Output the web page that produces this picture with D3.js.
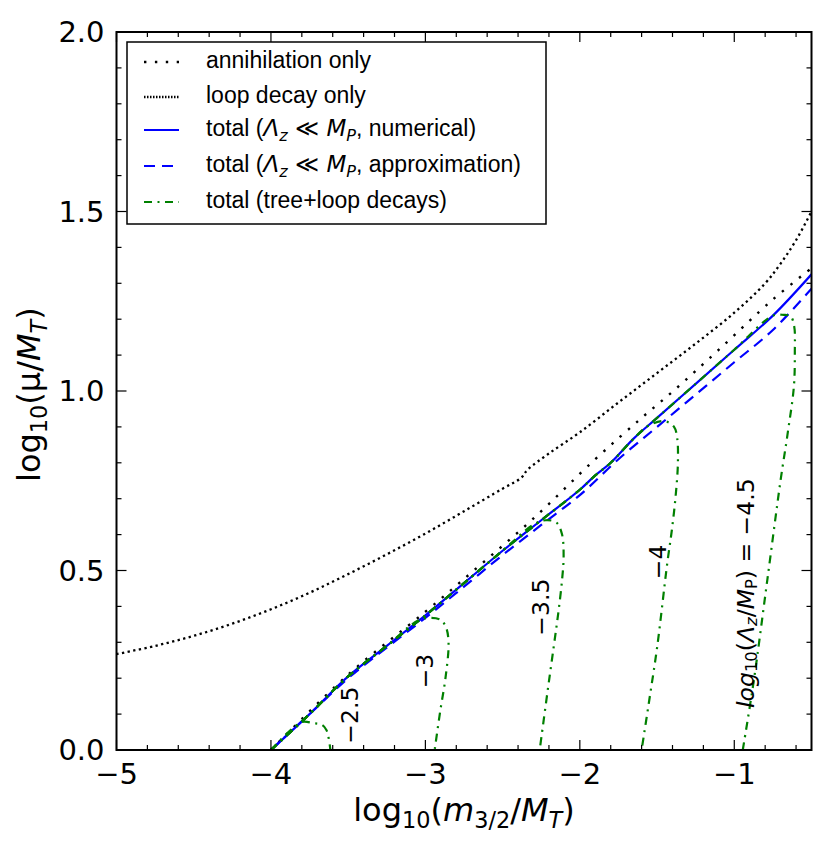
<!DOCTYPE html>
<html><head><meta charset="utf-8">
<script src="https://cdn.jsdelivr.net/npm/d3@7"></script>
<style>body{margin:0;background:#fff}text{font-family:"Liberation Sans",Arial,Helvetica,sans-serif;fill:#000}</style>
</head><body><svg id="c" width="829" height="855"></svg>
<script>
// ---------- data ----------
const xTicks = [-5, -4, -3, -2, -1];
const yTicks = [0, 0.5, 1.0, 1.5, 2.0];

const loopDecay = [[-5.0,0.267],[-4.75,0.29],[-4.5,0.318],[-4.25,0.352],[-4.0,0.392],[-3.75,0.438],[-3.5,0.49],[-3.25,0.545],[-3.0,0.603],[-2.75,0.665],[-2.5,0.728],[-2.38,0.758],[-2.34,0.78],[-2.2,0.826],[-2.0,0.885],[-1.75,0.968],[-1.5,1.05],[-1.25,1.132],[-1.0,1.218],[-0.8,1.3],[-0.7,1.355],[-0.6,1.42],[-0.5,1.50]];
const annihilation = [[-4.0,0.0],[-3.5,0.21],[-3.0,0.385],[-2.7,0.495],[-2.3,0.645],[-1.9,0.81],[-1.6,0.925],[-1.4,0.998],[-1.1,1.115],[-0.75,1.255],[-0.5,1.342]];
const totalNumerical = [[-4.0,0.0],[-3.75,0.10],[-3.5,0.205],[-3.25,0.29],[-3.0,0.375],[-2.75,0.465],[-2.5,0.555],[-2.25,0.64],[-2.0,0.725],[-1.9,0.765],[-1.8,0.8],[-1.65,0.868],[-1.5,0.925],[-1.25,1.02],[-1.0,1.115],[-0.75,1.21],[-0.5,1.325]];
const totalApprox = [[-4.0,0.0],[-3.75,0.10],[-3.5,0.20],[-3.25,0.285],[-3.0,0.368],[-2.75,0.455],[-2.5,0.543],[-2.25,0.627],[-2.0,0.71],[-1.75,0.81],[-1.5,0.9],[-1.25,0.99],[-1.0,1.08],[-0.75,1.17],[-0.5,1.285]];
// tails of the tree+loop curves, after they leave the common line
const treeTail25 = [[-3.8,0.078],[-3.73,0.075],[-3.67,0.07],[-3.64,0.055],[-3.625,0.03],[-3.615,0.0]];
const treeTail30 = [[-3.05,0.36],[-2.97,0.368],[-2.9,0.362],[-2.865,0.34],[-2.85,0.297],[-2.87,0.2],[-2.903,0.111],[-2.94,0.0]];
const treeTail35 = [[-2.3,0.628],[-2.22,0.64],[-2.15,0.633],[-2.115,0.6],[-2.105,0.54],[-2.115,0.474],[-2.14,0.38],[-2.169,0.288],[-2.21,0.16],[-2.26,0.0]];
const treeTail40 = [[-1.55,0.905],[-1.45,0.916],[-1.39,0.9],[-1.37,0.87],[-1.365,0.8],[-1.38,0.706],[-1.405,0.61],[-1.434,0.52],[-1.499,0.288],[-1.55,0.14],[-1.6,0.0]];
const treeTail45 = [[-0.75,1.21],[-0.68,1.212],[-0.635,1.208],[-0.612,1.18],[-0.608,1.11],[-0.614,1.013],[-0.655,0.88],[-0.70,0.752],[-0.786,0.474],[-0.873,0.195],[-0.945,0.0]];
const curveLabels = ["−2.5", "−3", "−3.5", "−4", "−4.5"];
const curveLabelPos = [[-3.49,0.097],[-3.005,0.22],[-2.254,0.398],[-1.496,0.524],[-0.926,0.437]];
const legendLabels = ["annihilation only", "loop decay only", "total (Λz ≪ MP, numerical)", "total (Λz ≪ MP, approximation)", "total (tree+loop decays)"];

// ---------- setup ----------
const MATH = '"DejaVu Sans", sans-serif';
const m = {l: 116.5, r: 811.5, t: 32, b: 750};
const x = d3.scaleLinear().domain([-5, -0.5]).range([m.l, m.r]);
const y = d3.scaleLinear().domain([0, 2]).range([m.b, m.t]);
const svg = d3.select("#c");

svg.append("defs").append("clipPath").attr("id", "clip")
  .append("rect").attr("x", m.l).attr("y", m.t).attr("width", m.r - m.l).attr("height", m.b - m.t);

function mathText(sel, parts, fs) {
  let prevSub = false;
  const sh = fs * 0.22;
  parts.forEach(p => {
    const t = sel.append("tspan").text(p.t)
      .attr("font-size", (p.sub ? fs * 0.7 : fs) + "px");
    if (p.i) t.attr("font-style", "italic");
    if (p.m) t.style("font-family", MATH);
    if (p.sub && !prevSub) t.attr("dy", sh);
    if (!p.sub && prevSub) t.attr("dy", -sh);
    prevSub = !!p.sub;
  });
}

const line = d3.line().x(d => x(d[0])).y(d => y(d[1])).curve(d3.curveCatmullRom.alpha(0.5));
const plot = svg.append("g").attr("clip-path", "url(#clip)");

const GREEN = "#008000", BLUE = "#0000ff";
const styles = {
  ann: {stroke: "#000", w: 2.4, dash: "2.4,8.5"},
  loop: {stroke: "#000", w: 2.3, dash: "2.3,3.4"},
  num: {stroke: BLUE, w: 2.2, dash: null},
  apx: {stroke: BLUE, w: 2.2, dash: "11,7"},
  tree: {stroke: GREEN, w: 2.2, dash: "8,5.5,2,5.5"}
};
function draw(data, st) {
  const p = plot.append("path").datum(data).attr("d", line)
    .attr("fill", "none").attr("stroke", st.stroke).attr("stroke-width", st.w);
  if (st.dash) p.attr("stroke-dasharray", st.dash);
}

draw(annihilation, styles.ann);
draw(loopDecay, styles.loop);
draw(totalNumerical, styles.num);
draw(totalApprox, styles.apx);
[treeTail25, treeTail30, treeTail35, treeTail40, treeTail45].forEach(tail => {
  const head = totalNumerical.filter(d => d[0] < tail[0][0] - 0.02);
  draw(head.concat(tail), styles.tree);
});

// ---------- frame and ticks ----------
svg.append("rect").attr("x", m.l).attr("y", m.t).attr("width", m.r - m.l).attr("height", m.b - m.t)
  .attr("fill", "none").attr("stroke", "#000").attr("stroke-width", 2);
const tk = svg.append("g").attr("stroke", "#000").attr("stroke-width", 1.2);
const xMinor = d3.range(-5, -0.49, 0.2).filter(v => Math.abs(v - Math.round(v)) > 1e-6);
const yMinor = d3.range(0, 2.001, 0.1).filter(v => Math.abs(v * 2 - Math.round(v * 2)) > 1e-6);
function xt(v, len) {
  tk.append("line").attr("x1", x(v)).attr("x2", x(v)).attr("y1", m.b).attr("y2", m.b - len);
  tk.append("line").attr("x1", x(v)).attr("x2", x(v)).attr("y1", m.t).attr("y2", m.t + len);
}
function yt(v, len) {
  tk.append("line").attr("y1", y(v)).attr("y2", y(v)).attr("x1", m.l).attr("x2", m.l + len);
  tk.append("line").attr("y1", y(v)).attr("y2", y(v)).attr("x1", m.r).attr("x2", m.r - len);
}
xTicks.forEach(v => xt(v, 10)); xMinor.forEach(v => xt(v, 5));
yTicks.forEach(v => yt(v, 10)); yMinor.forEach(v => yt(v, 5));

const TF = 29;
xTicks.forEach(v => {
  svg.append("text").attr("x", x(v)).attr("y", m.b + 34).attr("text-anchor", "middle")
    .style("font-family", MATH).attr("font-size", TF + "px").text("−" + Math.abs(v));
});
yTicks.forEach(v => {
  svg.append("text").attr("x", m.l - 12).attr("y", y(v)).attr("dy", "0.36em").attr("text-anchor", "end")
    .style("font-family", MATH).attr("font-size", TF + "px").text(d3.format(".1f")(v));
});

// axis labels
const AF = 32;
mathText(svg.append("text").attr("x", x(-2.75)).attr("y", 821).attr("text-anchor", "middle"),
  [{t: "log", m: 1}, {t: "10", sub: true, m: 1}, {t: "(", m: 1}, {t: "m", i: true, m: 1}, {t: "3/2", sub: true, m: 1}, {t: "/", m: 1}, {t: "M", i: true, m: 1}, {t: "T", sub: true, i: true, m: 1}, {t: ")", m: 1}], AF);
mathText(svg.append("text").attr("transform", `translate(40,${y(0.99)}) rotate(-90)`).attr("text-anchor", "middle"),
  [{t: "log", m: 1}, {t: "10", sub: true, m: 1}, {t: "(μ/", m: 1}, {t: "M", i: true, m: 1}, {t: "T", sub: true, i: true, m: 1}, {t: ")", m: 1}], AF);

// curve labels
const LF = 23.5;
curveLabels.forEach((lab, i) => {
  const [lx, ly] = curveLabelPos[i];
  const t = svg.append("text").attr("transform", `translate(${x(lx)},${y(ly)}) rotate(-90)`)
    .attr("text-anchor", "middle").attr("dominant-baseline", "central").style("font-family", MATH);
  if (i < 4) t.attr("font-size", LF + "px").text(lab);
  else mathText(t, [{t: "log", i: true, m: 1}, {t: "10", sub: true, m: 1}, {t: "(", m: 1}, {t: "Λ", i: true, m: 1}, {t: "z", sub: true, i: true, m: 1}, {t: "/", m: 1}, {t: "M", i: true, m: 1}, {t: "P", sub: true, m: 1}, {t: ") = " + lab, m: 1}], LF);
});

// ---------- legend ----------
const lg = svg.append("g");
lg.append("rect").attr("x", 127).attr("y", 42).attr("width", 419).attr("height", 182)
  .attr("fill", "#fff").attr("stroke", "#000").attr("stroke-width", 1.5);
const rowY = [62, 97, 130, 166, 202];
const legStyles = [styles.ann, styles.loop, styles.num, styles.apx, styles.tree];
const legParts = [
  [{t: legendLabels[0]}],
  [{t: legendLabels[1]}],
  [{t: "total ("}, {t: "Λ", i: true, m: 1}, {t: "z", sub: true, i: true, m: 1}, {t: " ≪ ", m: 1}, {t: "M", i: true, m: 1}, {t: "P", sub: true, i: true, m: 1}, {t: ", numerical)"}],
  [{t: "total ("}, {t: "Λ", i: true, m: 1}, {t: "z", sub: true, i: true, m: 1}, {t: " ≪ ", m: 1}, {t: "M", i: true, m: 1}, {t: "P", sub: true, i: true, m: 1}, {t: ", approximation)"}],
  [{t: legendLabels[4]}]
];
legStyles.forEach((st, i) => {
  const l = lg.append("line").attr("x1", 144).attr("x2", 179).attr("y1", rowY[i]).attr("y2", rowY[i])
    .attr("stroke", st.stroke).attr("stroke-width", st.w);
  if (st.dash) l.attr("stroke-dasharray", i === 1 ? "1.5,1.5" : st.dash);
  mathText(lg.append("text").attr("x", 206).attr("y", rowY[i]).attr("dy", "0.36em"), legParts[i], 23);
});
</script></body></html>
